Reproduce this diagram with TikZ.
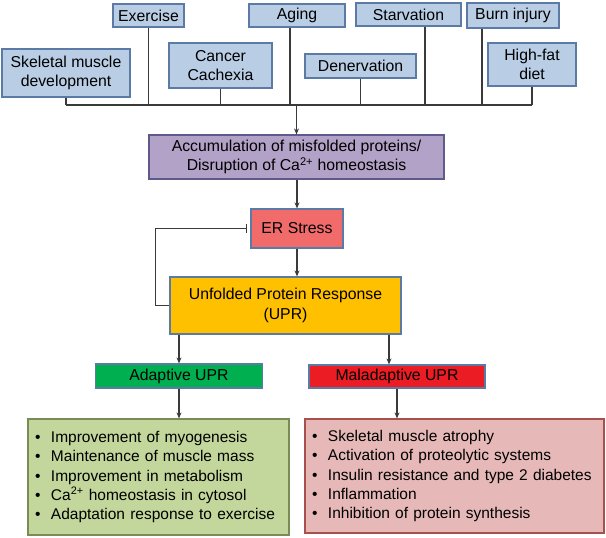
\documentclass[tikz,border=0pt]{standalone}
\usepackage{fontspec}
\setmainfont{Liberation Sans}
\usetikzlibrary{arrows.meta,calc}
\definecolor{bluefill}{HTML}{B9CDE5}
\definecolor{blueedge}{HTML}{5B7BA6}
\definecolor{purplefill}{HTML}{B3A2C7}
\definecolor{purpleedge}{HTML}{5E5B8C}
\definecolor{erfill}{HTML}{F26B6B}
\definecolor{upfill}{HTML}{FFC000}
\definecolor{adgreen}{HTML}{00B050}
\definecolor{madred}{HTML}{EC1C24}
\definecolor{greenbox}{HTML}{C3D69B}
\definecolor{greenedge}{HTML}{7A8C56}
\definecolor{redbox}{HTML}{E6B9B8}
\definecolor{rededge}{HTML}{A8504E}
\definecolor{linec}{HTML}{3A3A3A}
\tikzset{
  cause/.style={draw=blueedge, fill=bluefill, line width=1.2pt, align=center, inner sep=0pt},
  mainbox/.style={line width=1.2pt, align=center, inner sep=0pt},
  listbox/.style={line width=1.2pt, align=left, inner xsep=7pt, inner ysep=0pt},
  conn/.style={draw=linec, line width=1.3pt},
  arr/.style={conn, -{Stealth[length=6pt,width=5pt]}},
}
\newcommand{\itm}{\makebox[16pt][l]{\textbullet}}
\begin{document}
\begin{tikzpicture}[x=1pt,y=-1pt, font=\fontsize{15.8}{19.5}\selectfont]
\useasboundingbox (0,0) rectangle (606,538);
% causes
\node[cause, minimum width=128, minimum height=48] (skel) at (66,73) {Skeletal muscle\\development};
\node[cause, minimum width=71, minimum height=23] (exer) at (148.5,15.5) {Exercise};
\node[cause, minimum width=103, minimum height=45] (canc) at (220.5,65.5) {Cancer\\Cachexia};
\node[cause, minimum width=96, minimum height=23] (aging) at (297,15.5) {Aging};
\node[cause, minimum width=111, minimum height=24] (dener) at (360.5,66) {Denervation};
\node[cause, minimum width=105, minimum height=23] (starv) at (408.5,14.5) {Starvation};
\node[cause, minimum width=92, minimum height=25] (burn) at (513,15.5) {Burn injury};
\node[cause, minimum width=88, minimum height=43] (hfd) at (532,64.5) {High-fat\\diet};
\coordinate (bus) at (0,105);
% main chain
\node[mainbox, draw=purpleedge, fill=purplefill, minimum width=295, minimum height=44] (acc) at (296.5,157) {Accumulation of misfolded proteins/\\Disruption of Ca\textsuperscript{2+} homeostasis};
\node[mainbox, draw=blueedge, fill=erfill, minimum width=92, minimum height=39] (er) at (297,228.5) {ER Stress};
\node[mainbox, draw=blueedge, fill=upfill, minimum width=231, minimum height=57] (upr) at (285.5,305.5) {Unfolded Protein Response\\(UPR)};
\node[mainbox, draw=blueedge, fill=adgreen, minimum width=167, minimum height=24] (adapt) at (179,376) {Adaptive UPR};
\node[mainbox, draw=blueedge, fill=madred, minimum width=176, minimum height=23] (mal) at (397,376.5) {Maladaptive UPR};
\node[listbox, draw=greenedge, fill=greenbox, text width=247, minimum height=116, font=\fontsize{15.5}{19.2}\selectfont] (good) at (158.5,477) {%
\itm Improvement of myogenesis\\
\itm Maintenance of muscle mass\\
\itm Improvement in metabolism\\
\itm Ca\textsuperscript{2+} homeostasis in cytosol\\
\itm Adaptation response to exercise};
\node[listbox, draw=rededge, fill=redbox, text width=285, minimum height=114, font=\fontsize{15.5}{19.2}\selectfont] (bad) at (454.5,476) {%
\itm Skeletal muscle atrophy\\
\itm Activation of proteolytic systems\\
\itm Insulin resistance and type 2 diabetes\\
\itm Inflammation\\
\itm Inhibition of protein synthesis};
% bus lines
\draw[conn] (skel.south) -- (skel.south |- bus);
\draw[conn] (exer.south) -- (exer.south |- bus);
\draw[conn] (canc.south) -- (canc.south |- bus);
\draw[conn] ([xshift=-7]aging.south) -- ([xshift=-7]aging.south |- bus);
\draw[conn] (dener.south) -- (dener.south |- bus);
\draw[conn] ([xshift=16.5]starv.south) -- ([xshift=16.5]starv.south |- bus);
\draw[conn] ([xshift=-31]burn.south) -- ([xshift=-31]burn.south |- bus);
\draw[conn] (hfd.south) -- (hfd.south |- bus);
\draw[conn] (skel.south |- bus) -- (hfd.south |- bus);
\draw[arr] (acc.north |- bus) -- (acc.north);
\draw[arr] (er.north |- acc.south) -- (er.north);
\draw[arr] ([xshift=11.5]upr.north |- er.south) -- ([xshift=11.5]upr.north);
\draw[conn, -{Bar[width=9pt]}] (upr.west) -- ++(-14,0) |- ([xshift=-3]er.west);
\draw[arr] (adapt.north |- upr.south) -- (adapt.north);
\draw[arr] ([xshift=-8]mal.north |- upr.south) -- ([xshift=-8]mal.north);
\draw[arr] (adapt.south) -- (adapt.south |- good.north);
\draw[arr] (mal.south) -- (mal.south |- bad.north);
\end{tikzpicture}
\end{document}
